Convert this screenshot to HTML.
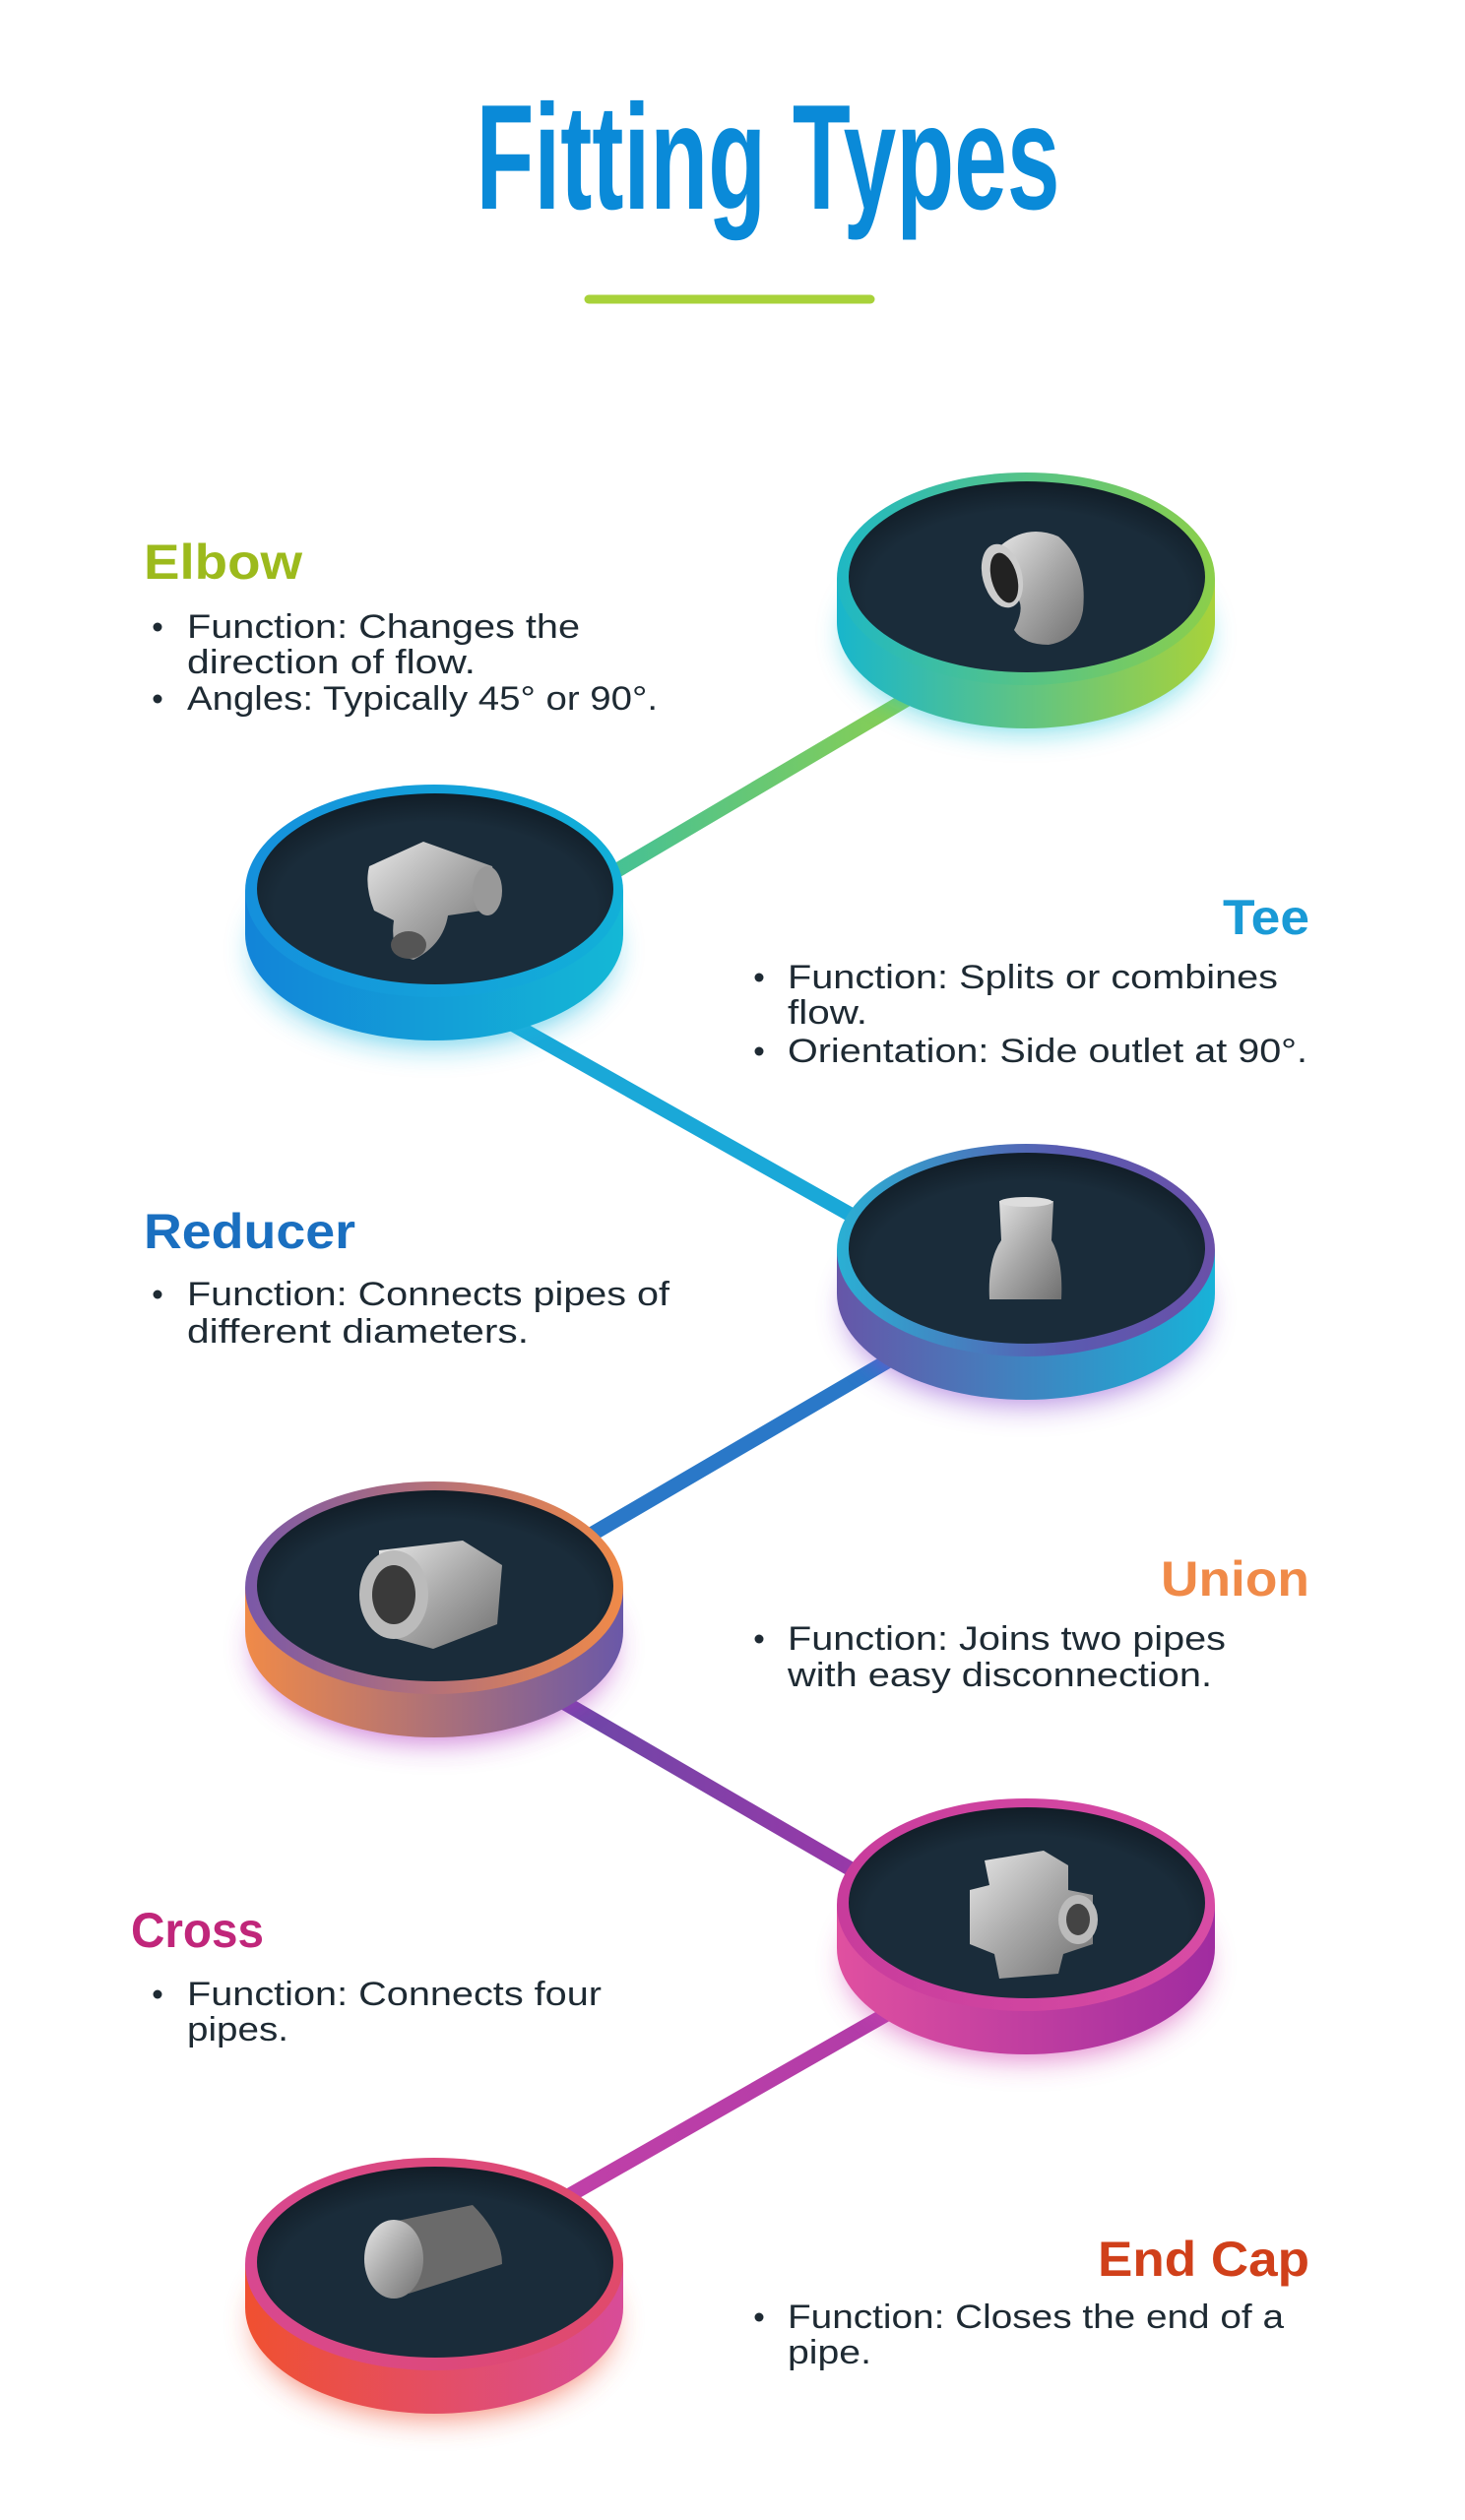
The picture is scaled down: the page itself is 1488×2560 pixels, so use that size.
<!DOCTYPE html>
<html><head><meta charset="utf-8"><style>
html,body{margin:0;padding:0;background:#fff}
svg{display:block}
.h{font-family:"Liberation Sans",sans-serif;font-weight:700;font-size:50px}
.b{font-family:"Liberation Sans",sans-serif;font-size:34px;fill:#1e2a33}
</style></head><body>
<svg width="1488" height="2560" viewBox="0 0 1488 2560" xmlns="http://www.w3.org/2000/svg">
<defs>
<filter id="blur" x="-50%" y="-50%" width="200%" height="200%"><feGaussianBlur stdDeviation="16"/></filter>
<linearGradient id="s1" x1="0" x2="1"><stop offset="0" stop-color="#18b6cc"/><stop offset="1" stop-color="#a8d23a"/></linearGradient>
<linearGradient id="r1" x1="0" x2="1"><stop offset="0" stop-color="#1fb8c4"/><stop offset="1" stop-color="#8ccf4a"/></linearGradient>
<linearGradient id="s2" x1="0" x2="1"><stop offset="0" stop-color="#1284d8"/><stop offset="1" stop-color="#14b8d6"/></linearGradient>
<linearGradient id="r2" x1="0" x2="1"><stop offset="0" stop-color="#1590dc"/><stop offset="1" stop-color="#12b0d8"/></linearGradient>
<linearGradient id="s3" x1="0" x2="1"><stop offset="0" stop-color="#6656a8"/><stop offset="1" stop-color="#18b2d8"/></linearGradient>
<linearGradient id="r3" x1="0" x2="1"><stop offset="0" stop-color="#2ab0d4"/><stop offset="0.6" stop-color="#5a5ab0"/><stop offset="1" stop-color="#6a50a8"/></linearGradient>
<linearGradient id="s4" x1="0" x2="1"><stop offset="0" stop-color="#f08a48"/><stop offset="1" stop-color="#6a58a8"/></linearGradient>
<linearGradient id="r4" x1="0" x2="1"><stop offset="0" stop-color="#7a58a8"/><stop offset="1" stop-color="#f08a48"/></linearGradient>
<linearGradient id="s5" x1="0" x2="1"><stop offset="0" stop-color="#e050a0"/><stop offset="1" stop-color="#a02ca0"/></linearGradient>
<linearGradient id="r5" x1="0" x2="1"><stop offset="0" stop-color="#c83c9c"/><stop offset="1" stop-color="#d84ca4"/></linearGradient>
<linearGradient id="s6" x1="0" x2="1"><stop offset="0" stop-color="#f05030"/><stop offset="1" stop-color="#d84c98"/></linearGradient>
<linearGradient id="r6" x1="0" x2="1"><stop offset="0" stop-color="#d84890"/><stop offset="1" stop-color="#e04a6a"/></linearGradient>
<radialGradient id="inner" cx="0.5" cy="0.6" r="0.6"><stop offset="0.75" stop-color="#1a2c3a"/><stop offset="1" stop-color="#111d27"/></radialGradient>
<linearGradient id="metal" x1="0" x2="1" y1="0" y2="1"><stop offset="0" stop-color="#e8e8e8"/><stop offset="0.5" stop-color="#a8a8a8"/><stop offset="1" stop-color="#707070"/></linearGradient>
<linearGradient id="l1" x1="0" x2="1"><stop offset="0" stop-color="#40c09a"/><stop offset="1" stop-color="#8ccf50"/></linearGradient>
<linearGradient id="l4" x1="0" x2="1"><stop offset="0" stop-color="#6a48a8"/><stop offset="1" stop-color="#9a38a8"/></linearGradient>
<linearGradient id="l5" x1="0" x2="1"><stop offset="0" stop-color="#c040a8"/><stop offset="1" stop-color="#b03ca8"/></linearGradient>
</defs>

<text x="780" y="212" text-anchor="middle" textLength="593" lengthAdjust="spacingAndGlyphs" style="font-family:'Liberation Sans Narrow','Liberation Sans',sans-serif;font-weight:700;font-size:152px" fill="#0a8ad8">Fitting Types</text>
<line x1="598" y1="304" x2="884" y2="304" stroke="#a8d23a" stroke-width="9" stroke-linecap="round"/>

<g stroke-width="15" stroke-linecap="round">
<line x1="600" y1="900" x2="930" y2="705" stroke="url(#l1)"/>
<line x1="520" y1="1040" x2="880" y2="1243" stroke="#1aa8d8"/>
<line x1="920" y1="1372" x2="590" y2="1565" stroke="#2a78c8"/>
<line x1="560" y1="1722" x2="880" y2="1908" stroke="url(#l4)"/>
<line x1="920" y1="2035" x2="570" y2="2235" stroke="url(#l5)"/>
</g>

<g>
<ellipse cx="1042" cy="645" rx="180" ry="95" fill="#18c4d8" opacity="0.7" filter="url(#blur)"/>
<path d="M850,588 L850,632 A192,108 0 0 0 1234,632 L1234,588 Z" fill="url(#s1)"/>
<ellipse cx="1042" cy="588" rx="192" ry="108" fill="url(#r1)"/>
<ellipse cx="1043" cy="586" rx="181" ry="97" fill="url(#inner)"/>
</g>
<g>
<ellipse cx="441" cy="965" rx="180" ry="95" fill="#1ab8e0" opacity="0.7" filter="url(#blur)"/>
<path d="M249,905 L249,949 A192,108 0 0 0 633,949 L633,905 Z" fill="url(#s2)"/>
<ellipse cx="441" cy="905" rx="192" ry="108" fill="url(#r2)"/>
<ellipse cx="442" cy="903" rx="181" ry="97" fill="url(#inner)"/>
</g>
<g>
<ellipse cx="1042" cy="1330" rx="180" ry="95" fill="#8a4ad0" opacity="0.7" filter="url(#blur)"/>
<path d="M850,1270 L850,1314 A192,108 0 0 0 1234,1314 L1234,1270 Z" fill="url(#s3)"/>
<ellipse cx="1042" cy="1270" rx="192" ry="108" fill="url(#r3)"/>
<ellipse cx="1043" cy="1268" rx="181" ry="97" fill="url(#inner)"/>
</g>
<g>
<ellipse cx="441" cy="1673" rx="180" ry="95" fill="#b030c0" opacity="0.7" filter="url(#blur)"/>
<path d="M249,1613 L249,1657 A192,108 0 0 0 633,1657 L633,1613 Z" fill="url(#s4)"/>
<ellipse cx="441" cy="1613" rx="192" ry="108" fill="url(#r4)"/>
<ellipse cx="442" cy="1611" rx="181" ry="97" fill="url(#inner)"/>
</g>
<g>
<ellipse cx="1042" cy="1995" rx="180" ry="95" fill="#d040b0" opacity="0.7" filter="url(#blur)"/>
<path d="M850,1935 L850,1979 A192,108 0 0 0 1234,1979 L1234,1935 Z" fill="url(#s5)"/>
<ellipse cx="1042" cy="1935" rx="192" ry="108" fill="url(#r5)"/>
<ellipse cx="1043" cy="1933" rx="181" ry="97" fill="url(#inner)"/>
</g>
<g>
<ellipse cx="441" cy="2360" rx="180" ry="95" fill="#f05030" opacity="0.7" filter="url(#blur)"/>
<path d="M249,2300 L249,2344 A192,108 0 0 0 633,2344 L633,2300 Z" fill="url(#s6)"/>
<ellipse cx="441" cy="2300" rx="192" ry="108" fill="url(#r6)"/>
<ellipse cx="442" cy="2298" rx="181" ry="97" fill="url(#inner)"/>
</g>

<path d="M1010,560 Q1040,530 1075,545 Q1105,570 1100,620 Q1095,650 1065,655 Q1040,655 1030,640 Q1050,600 1010,600 Z" fill="url(#metal)"/>
<ellipse cx="1018" cy="585" rx="20" ry="33" fill="#ccc" transform="rotate(-15 1018 585)"/>
<ellipse cx="1020" cy="587" rx="13" ry="26" fill="#222" transform="rotate(-15 1020 587)"/>
<path d="M375,880 L430,855 L500,880 Q510,920 490,925 L455,930 Q450,960 420,975 Q395,970 400,935 L380,925 Q370,900 375,880 Z" fill="url(#metal)"/>
<ellipse cx="495" cy="905" rx="15" ry="25" fill="#999"/>
<ellipse cx="415" cy="960" rx="18" ry="14" fill="#555"/>
<path d="M1015,1220 L1070,1220 L1068,1260 Q1080,1280 1078,1320 L1005,1320 Q1003,1280 1017,1260 Z" fill="url(#metal)"/>
<ellipse cx="1042" cy="1221" rx="27" ry="5" fill="#ddd"/>
<path d="M385,1575 L470,1565 L510,1590 L505,1650 L440,1675 L385,1660 Z" fill="url(#metal)"/>
<ellipse cx="400" cy="1620" rx="35" ry="45" fill="#bbb"/>
<ellipse cx="400" cy="1620" rx="22" ry="30" fill="#3a3a3a"/>
<path d="M1000,1890 L1060,1880 L1085,1895 L1085,1920 L1110,1925 L1110,1975 L1080,1985 L1075,2005 L1015,2010 L1010,1985 L985,1975 L985,1920 L1005,1915 Z" fill="url(#metal)"/>
<ellipse cx="1095" cy="1950" rx="20" ry="25" fill="#bbb"/>
<ellipse cx="1095" cy="1950" rx="12" ry="16" fill="#444"/>
<path d="M385,2260 L480,2240 Q510,2270 510,2300 L415,2330 Z" fill="#6a6a6a"/>
<ellipse cx="400" cy="2295" rx="30" ry="40" fill="url(#metal)"/>

<g transform="translate(0,6)">
<text class="h" x="146" y="582" fill="#9cba1c" textLength="161" lengthAdjust="spacingAndGlyphs">Elbow</text>
<circle cx="160" cy="631" r="4.5" fill="#1e2a33"/>
<text class="b" x="190" y="642" textLength="399" lengthAdjust="spacingAndGlyphs">Function: Changes the</text>
<text class="b" x="190" y="678" textLength="293" lengthAdjust="spacingAndGlyphs">direction of flow.</text>
<circle cx="160" cy="704" r="4.5" fill="#1e2a33"/>
<text class="b" x="190" y="715" textLength="478" lengthAdjust="spacingAndGlyphs">Angles: Typically 45° or 90°.</text>

<text class="h" x="1242" y="943" fill="#1a9ad6" textLength="88" lengthAdjust="spacingAndGlyphs">Tee</text>
<circle cx="771" cy="987" r="4.5" fill="#1e2a33"/>
<text class="b" x="800" y="998" textLength="498" lengthAdjust="spacingAndGlyphs">Function: Splits or combines</text>
<text class="b" x="800" y="1034" textLength="81" lengthAdjust="spacingAndGlyphs">flow.</text>
<circle cx="771" cy="1062" r="4.5" fill="#1e2a33"/>
<text class="b" x="800" y="1073" textLength="528" lengthAdjust="spacingAndGlyphs">Orientation: Side outlet at 90°.</text>

<text class="h" x="146" y="1262" fill="#1a6fc0" textLength="215" lengthAdjust="spacingAndGlyphs">Reducer</text>
<circle cx="160" cy="1309" r="4.5" fill="#1e2a33"/>
<text class="b" x="190" y="1320" textLength="490" lengthAdjust="spacingAndGlyphs">Function: Connects pipes of</text>
<text class="b" x="190" y="1358" textLength="347" lengthAdjust="spacingAndGlyphs">different diameters.</text>

<text class="h" x="1179" y="1615" fill="#f08a48" textLength="151" lengthAdjust="spacingAndGlyphs">Union</text>
<circle cx="771" cy="1659" r="4.5" fill="#1e2a33"/>
<text class="b" x="800" y="1670" textLength="445" lengthAdjust="spacingAndGlyphs">Function: Joins two pipes</text>
<text class="b" x="800" y="1707" textLength="431" lengthAdjust="spacingAndGlyphs">with easy disconnection.</text>

<text class="h" x="133" y="1972" fill="#c0267a" textLength="135" lengthAdjust="spacingAndGlyphs">Cross</text>
<circle cx="160" cy="2020" r="4.5" fill="#1e2a33"/>
<text class="b" x="190" y="2031" textLength="421" lengthAdjust="spacingAndGlyphs">Function: Connects four</text>
<text class="b" x="190" y="2067" textLength="103" lengthAdjust="spacingAndGlyphs">pipes.</text>

<text class="h" x="1115" y="2306" fill="#d0401a" textLength="215" lengthAdjust="spacingAndGlyphs">End Cap</text>
<circle cx="771" cy="2348" r="4.5" fill="#1e2a33"/>
<text class="b" x="800" y="2359" textLength="504" lengthAdjust="spacingAndGlyphs">Function: Closes the end of a</text>
<text class="b" x="800" y="2395" textLength="85" lengthAdjust="spacingAndGlyphs">pipe.</text>
</g>
</svg>
</body></html>
